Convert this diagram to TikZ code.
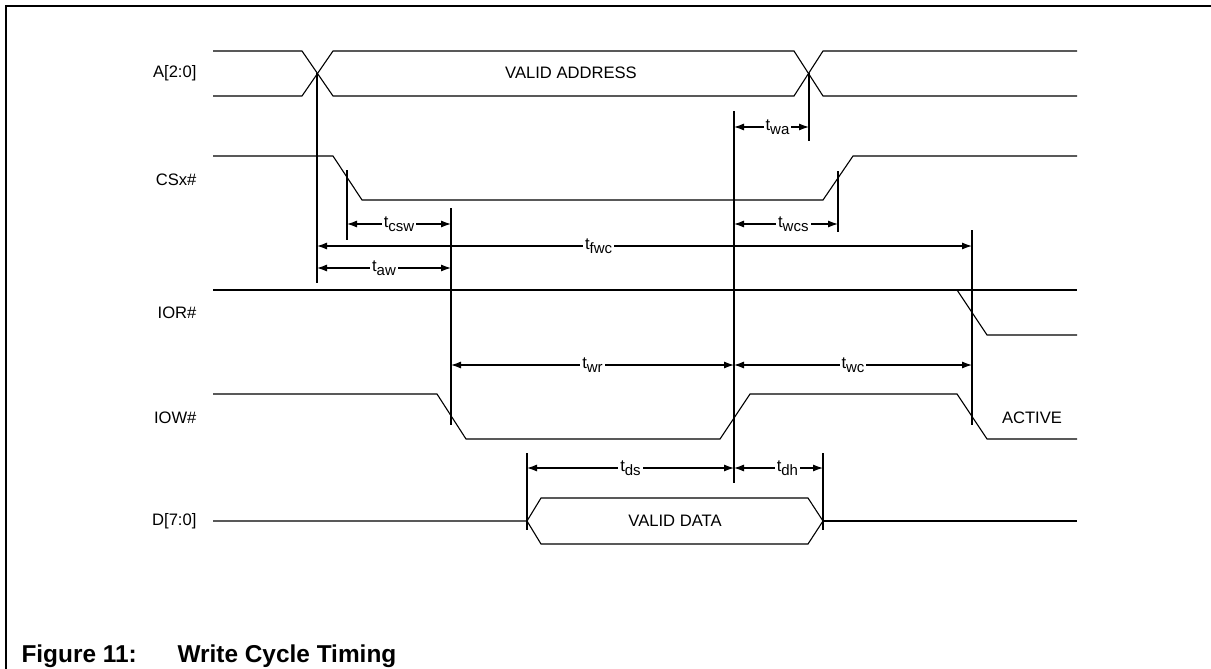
\documentclass[tikz,border=0pt]{standalone}
\usepackage{fontspec}
\setmainfont{Liberation Sans}
\usetikzlibrary{arrows.meta, positioning}

\newcommand{\tm}[1]{t\raisebox{-3.5pt}{\fontsize{15}{15}\selectfont #1}}

\begin{document}
\begin{tikzpicture}[x=1pt, y=-1pt, line width=1.1pt,
  every node/.style={font=\fontsize{16.6}{19}\selectfont},
  sig name/.style={anchor=east, inner sep=0pt},
  dim/.style={{Latex[length=10pt,width=7pt]}-{Latex[length=10pt,width=7pt]}},
  tlabel/.style={fill=white, inner xsep=2pt, inner ysep=0pt},
  caption/.style={anchor=base west, inner sep=0pt, font=\bfseries\fontsize{24.4}{28}\selectfont}]

\useasboundingbox (0,0) rectangle (1211,669);
\draw[line width=2.5pt] (6,669) -- (6,6) -- (1211,6);

% signal names
\node[sig name] (nA) at (197,73) {A[2:0]};
\node[sig name] (nCS) at (197,180) {CSx\#};
\node[sig name] (nIOR) at (197,313) {IOR\#};
\node[sig name] (nIOW) at (197,418) {IOW\#};
\node[sig name] (nD) at (197,521) {D[7:0]};

% address bus
\draw (213,51) -- (302,51) -- (333,96) -- (794,96) -- (823,51) -- (1077,51);
\draw (213,96) -- (302,96) -- (333,51) -- (794,51) -- (823,96) -- (1077,96);
\node (vaddr) at (571,73) {VALID ADDRESS};

% CSx#
\draw (213,156) -- (333,156) -- (362,200) -- (823,200) -- (853,156) -- (1077,156);

% IOR#
\draw (213,290) -- (1077,290);
\draw (957,290) -- (987,335) -- (1077,335);

% IOW#
\draw (213,394) -- (437,394) -- (466,439) -- (720,439) -- (750,394) -- (957,394)
  -- (987,439) -- (1077,439);
\node (act) at (1032,418) {ACTIVE};

% data bus
\draw (213,521) -- (527,521) -- (541,498) -- (808,498) -- (823,521) -- (808,544)
  -- (541,544) -- (527,521);
\draw (823,521) -- (1077,521);
\node (vdata) at (675,521) {VALID DATA};

% reference lines
\draw (317,73) -- (317,283);
\draw (347,170) -- (347,240);
\draw (451,208) -- (451,425);
\draw (734,111) -- (734,483);
\draw (809,73) -- (809,141);
\draw (838,171) -- (838,232);
\draw (972,230) -- (972,425);
\draw (527,453) -- (527,530);
\draw (823,453) -- (823,530);

% timing arrows
\coordinate (csw1) at (347,224); \coordinate (csw2) at (451,224);
\coordinate (fwc1) at (317,246); \coordinate (fwc2) at (972,246);
\coordinate (aw1) at (317,268);  \coordinate (aw2) at (451,268);
\coordinate (wa1) at (734,127);  \coordinate (wa2) at (809,127);
\coordinate (wcs1) at (734,224); \coordinate (wcs2) at (838,224);
\coordinate (wr1) at (451,365);  \coordinate (wr2) at (734,365);
\coordinate (wc1) at (734,365);  \coordinate (wc2) at (972,365);
\coordinate (ds1) at (527,468);  \coordinate (ds2) at (734,468);
\coordinate (dh1) at (734,468);  \coordinate (dh2) at (823,468);

\draw[dim] (csw1) -- node[tlabel] (lcsw) {\tm{csw}} (csw2);
\draw[dim] (fwc1) -- node[tlabel, pos=0.43] (lfwc) {\tm{fwc}} (fwc2);
\draw[dim] (aw1) -- node[tlabel] (law) {\tm{aw}} (aw2);
\draw[dim] (wa1) -- node[tlabel, pos=0.58] (lwa) {\tm{wa}} (wa2);
\draw[dim] (wcs1) -- node[tlabel, pos=0.57] (lwcs) {\tm{wcs}} (wcs2);
\draw[dim] (wr1) -- node[tlabel] (lwr) {\tm{wr}} (wr2);
\draw[dim] (wc1) -- node[tlabel] (lwc) {\tm{wc}} (wc2);
\draw[dim] (ds1) -- node[tlabel] (lds) {\tm{ds}} (ds2);
\draw[dim] (dh1) -- node[tlabel, pos=0.6] (ldh) {\tm{dh}} (dh2);

% caption
\node[caption] (fig) at (21,662) {Figure 11:};
\node[caption] (title) at (177,662) {Write Cycle Timing};

\end{tikzpicture}
\end{document}
